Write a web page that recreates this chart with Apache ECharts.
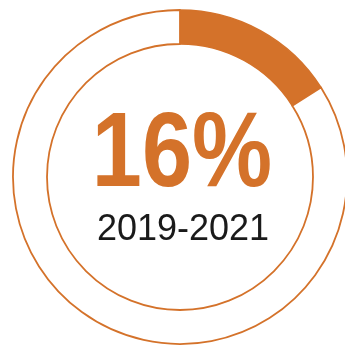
<!DOCTYPE html>
<html>
<head>
<meta charset="utf-8">
<script src="https://cdn.jsdelivr.net/npm/echarts@6/dist/echarts.min.js"></script>
<style>
  html, body { margin: 0; padding: 0; background: #ffffff; }
  #chart { width: 345px; height: 347px; }
</style>
</head>
<body>
<div id="chart"></div>
<script>
// Share of the period and the remainder of the ring
const shareLabels = ['2019-2021', 'other'];
const shareValues = [16, 84];
const headline = '16%';
const period = '2019-2021';

const ORANGE = '#d4722a';

const chart = echarts.init(document.getElementById('chart'), null, { renderer: 'canvas' });

chart.setOption({
  backgroundColor: '#ffffff',
  animation: false,
  series: [{
    type: 'pie',
    center: [180, 177],
    radius: [133, 167],
    startAngle: 90,
    clockwise: true,
    silent: true,
    label: { show: false },
    labelLine: { show: false },
    data: shareLabels.map((name, i) => ({
      name: name,
      value: shareValues[i],
      itemStyle: i === 0
        ? { color: ORANGE, borderColor: ORANGE, borderWidth: 1.5 }
        : { color: '#ffffff', borderColor: ORANGE, borderWidth: 1.8 }
    }))
  }],
  graphic: [
    {
      type: 'text',
      x: 182,
      y: 157,
      scaleX: 0.85,
      style: {
        text: headline,
        fill: ORANGE,
        font: 'bold 106px "Liberation Sans", sans-serif',
        textAlign: 'center',
        textVerticalAlign: 'middle'
      }
    },
    {
      type: 'text',
      x: 183,
      y: 230,
      style: {
        text: period,
        fill: '#1a1a1a',
        font: '36px "Liberation Sans", sans-serif',
        textAlign: 'center',
        textVerticalAlign: 'middle'
      }
    }
  ]
});
</script>
</body>
</html>
